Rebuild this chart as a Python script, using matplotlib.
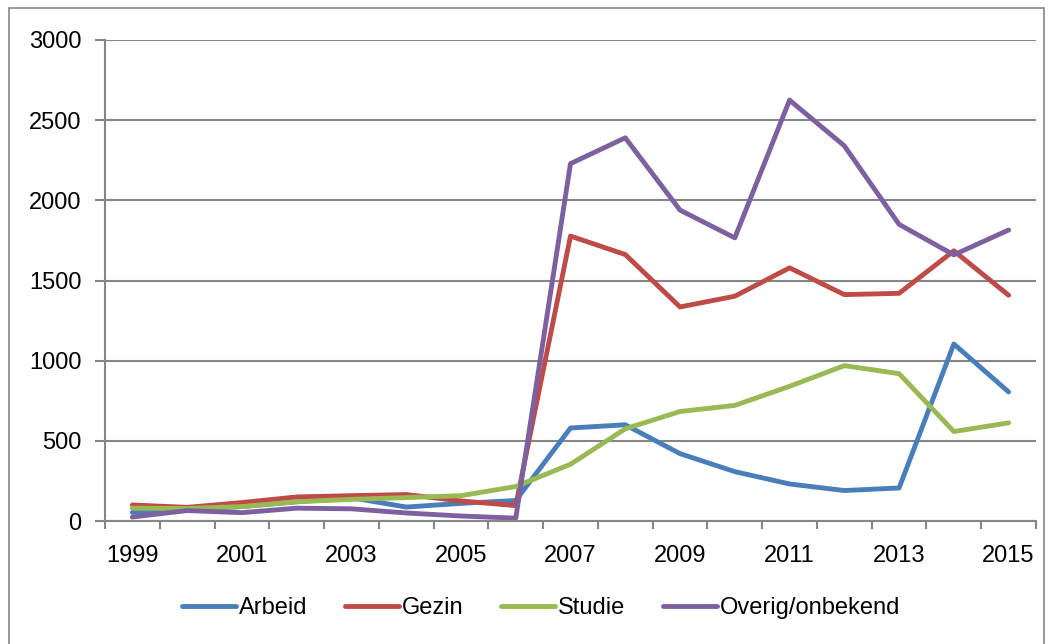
import numpy as np
import matplotlib
matplotlib.use("Agg")
import matplotlib.pyplot as plt
from matplotlib.patches import Rectangle

plt.rcParams['font.family'] = ['Liberation Sans', 'DejaVu Sans']

# data
jaren = [1999, 2000, 2001, 2002, 2003, 2004, 2005, 2006, 2007, 2008,
         2009, 2010, 2011, 2012, 2013, 2014, 2015]
arbeid = [54, 72, 90, 120, 145, 87, 110, 128, 580, 600,
          420, 308, 231, 190, 206, 1104, 805]
gezin = [100, 85, 115, 150, 158, 165, 125, 96, 1777, 1662,
         1335, 1402, 1579, 1412, 1420, 1685, 1408]
studie = [80, 78, 90, 120, 135, 146, 158, 215, 354, 575,
          683, 721, 840, 969, 919, 558, 612]
overig = [25, 65, 52, 80, 76, 50, 31, 18, 2229, 2390,
          1939, 1766, 2625, 2340, 1850, 1660, 1815]

reeksen = [("Arbeid", arbeid, "#4A7EBB"),
           ("Gezin", gezin, "#BE4B48"),
           ("Studie", studie, "#98B954"),
           ("Overig/onbekend", overig, "#7D60A0")]

grijs = "#868686"
fig = plt.figure(figsize=(10.52, 6.44), dpi=100)
ax = fig.add_axes([105/1052, 1-521/644, 931/1052, 481/644])

x = np.arange(len(jaren))
for naam, waarden, kleur in reeksen:
    ax.plot(x, waarden, color=kleur, lw=3.5, label=naam,
            solid_capstyle='round', solid_joinstyle='round')

ax.set_xlim(-0.5, len(jaren) - 0.5)
ax.set_ylim(0, 3000)
ax.set_yticks(np.arange(0, 3001, 500))
ax.set_xticks(x[::2])
ax.set_xticklabels([str(j) for j in jaren[::2]])
ax.set_xticks(np.arange(-0.5, len(jaren), 1), minor=True)
ax.tick_params(axis='x', which='major', length=0, pad=17, labelsize=17)
ax.tick_params(axis='x', which='minor', length=6, width=1.5, color=grijs, direction='out')
ax.tick_params(axis='y', length=7, width=1.5, color=grijs, pad=10, labelsize=17)
ax.yaxis.grid(True, color=grijs, lw=1.5)
ax.set_axisbelow(True)
for s in ['top', 'right']:
    ax.spines[s].set_visible(False)
for s in ['left', 'bottom']:
    ax.spines[s].set_color(grijs)
    ax.spines[s].set_linewidth(1.5)

leg = fig.legend(loc='center', bbox_to_anchor=(541/1052, 1-608/644), ncol=4,
                 frameon=False, fontsize=17, handlelength=2.3,
                 handletextpad=0.1, columnspacing=1.6)

# rand om de grafiek
fig.patches.append(Rectangle((9/1052, -0.05), 1035/1052, 1.05 - 8/644,
                             transform=fig.transFigure, fill=False,
                             edgecolor=grijs, lw=1.2))

fig.savefig("out.png", dpi=100)
